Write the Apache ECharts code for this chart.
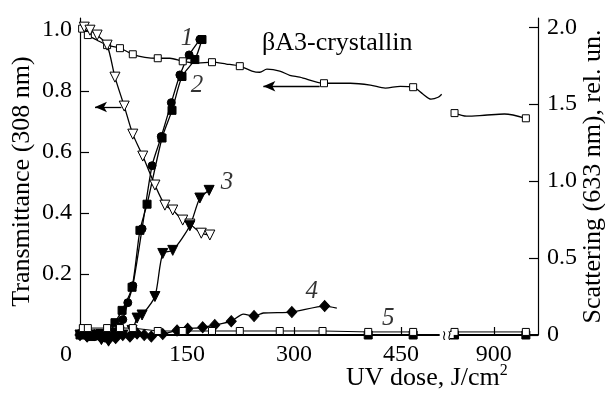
<!DOCTYPE html>
<html>
<head>
<meta charset="utf-8">
<script src="https://cdn.jsdelivr.net/npm/echarts@6/dist/echarts.min.js"></script>
<style>
  html, body { margin: 0; padding: 0; background: #fff; }
  #chart { width: 605px; height: 393px; }
</style>
</head>
<body>
<div id="chart"></div>
<script>
// ---- axes ----
const doseTicks = [0, 150, 300, 450, 900];
const transTicks = [0.2, 0.4, 0.6, 0.8, 1.0];
const scatTicks = [0, 0.5, 1.0, 1.5, 2.0];
const doseBreakStart = 510;
const doseBreakEnd = 838;

// ---- transmittance at 308 nm (left axis), open squares; null = axis break ----
const transSqDose  = [3, 11, 24, 38, 56, 74, 91, 109, 126, 144, 165, 185, 205, 224, 241, 252, 262, 280, 294, 308, 342, 379, 407, 428, 449, 467, 481, 492, 502, 507, 600, 845, 862, 887, 915, 945];
const transSqValue = [1.005, 0.984, 0.967, 0.951, 0.941, 0.921, 0.911, 0.908, 0.908, 0.898, 0.892, 0.895, 0.889, 0.882, 0.866, 0.862, 0.872, 0.866, 0.852, 0.846, 0.826, 0.826, 0.820, 0.810, 0.816, 0.813, 0.790, 0.774, 0.780, 0.790, null, 0.728, 0.718, 0.721, 0.725, 0.711];
const transSqMarked = [1, 1, 0, 1, 1, 1, 0, 1, 0, 1, 0, 1, 0, 1, 0, 0, 0, 0, 0, 0, 1, 0, 0, 0, 0, 1, 0, 0, 0, 0, 0, 1, 0, 0, 0, 1];

// ---- transmittance at 308 nm (left axis), open down-triangles ----
const transTriDose  = [6, 14, 24, 38, 49, 62, 74, 88, 105, 119, 130, 144, 154, 170, 182];
const transTriValue = [1.01, 1.0, 0.984, 0.951, 0.846, 0.751, 0.659, 0.587, 0.492, 0.426, 0.41, 0.377, 0.364, 0.334, 0.328];

// ---- scattering at 633 nm (right axis) ----
const scat1Dose  = [0, 7, 14, 21, 28, 35, 42, 50, 56, 60, 67, 74, 87, 101, 114, 128, 140, 153, 168];
const scat1Value = [0.01, 0.0, 0.01, -0.01, 0.0, -0.02, 0.0, 0.02, 0.05, 0.1, 0.21, 0.32, 0.69, 1.10, 1.29, 1.51, 1.69, 1.82, 1.92];

const scat2Dose  = [0, 7, 14, 21, 28, 35, 42, 49, 59, 73, 84, 94, 115, 129, 143, 161, 171];
const scat2Value = [0.0, 0.01, -0.01, 0.0, 0.01, 0.0, 0.02, 0.08, 0.16, 0.31, 0.68, 0.85, 1.28, 1.46, 1.68, 1.79, 1.92];

const scat3Dose  = [0, 10, 20, 30, 40, 50, 60, 73, 80, 87, 105, 116, 130, 154, 168, 181];
const scat3Value = [0.0, -0.01, 0.0, -0.03, -0.04, -0.02, 0.0, 0.03, 0.11, 0.13, 0.25, 0.53, 0.55, 0.71, 0.89, 0.94];

const scat4Dose   = [0, 10, 20, 30, 40, 50, 60, 70, 80, 90, 100, 116, 136, 151, 172, 189, 212, 229, 244, 257, 297, 343, 360];
const scat4Value  = [0.0, -0.01, 0.0, -0.02, -0.03, -0.02, 0.0, -0.01, 0.01, 0.0, -0.01, 0.006, 0.03, 0.04, 0.05, 0.065, 0.09, 0.136, 0.123, 0.143, 0.149, 0.188, 0.175];
const scat4Marked = [1, 1, 1, 1, 1, 1, 1, 1, 1, 1, 1, 1, 1, 1, 1, 1, 1, 0, 1, 0, 1, 1, 0];

const scat5Dose   = [0, 404, 467, 510, 600, 838, 845, 945, 962];
const scat5Value  = [0, 0, 0, 0, null, 0, 0, 0, 0];
const scat5Marked = [0, 1, 1, 0, 0, 0, 1, 1, 0];

const scatSqDose  = [4, 11, 38, 56, 74, 109, 144, 185, 224, 280, 340, 404, 467, 600, 845, 945];
const scatSqValue = [0.045, 0.045, 0.045, 0.045, 0.045, 0.026, 0.026, 0.026, 0.026, 0.026, 0.026, 0.02, 0.02, null, 0.02, 0.02];

// ---- curve numbers (right-axis coordinates) ----
const tagText  = ['1', '2', '3', '4', '5'];
const tagDose  = [150, 164, 206, 325, 432];
const tagValue = [1.93, 1.62, 0.99, 0.28, 0.11];

// ---- arrows pointing to the transmittance axis ----
const arrowRows = [
  { from: [58, 0.748], to: [21, 0.748] },
  { from: [336, 0.816], to: [257, 0.816] }
];

const FONT = 'Liberation Serif, Times New Roman, serif';
const INK = '#000';

function points(xs, ys, marked) {
  return xs.map((x, i) => {
    if (ys[i] === null) return { value: [x, '-'] };
    const item = { value: [x, ys[i]] };
    if (marked && !marked[i]) item.symbol = 'none';
    return item;
  });
}

function lineSeries(opts) {
  return Object.assign({
    type: 'line',
    smooth: 0.25,
    clip: false,
    connectNulls: false,
    lineStyle: { color: INK, width: 1.3 },
    itemStyle: { color: INK, borderColor: INK, borderWidth: 1 },
    symbolSize: 8,
    emphasis: { disabled: true },
    animation: false,
    z: 3
  }, opts);
}

const openStyle = { color: '#fff', borderColor: INK, borderWidth: 1 };

const chart = echarts.init(document.getElementById('chart'), null, { renderer: 'canvas' });

const option = {
  backgroundColor: '#fff',
  animation: false,
  textStyle: { fontFamily: FONT, color: INK },
  grid: { left: 80, right: 67, top: 18, bottom: 58, containLabel: false, outerBoundsMode: 'none' },
  title: [
    {
      text: 'βA3-crystallin', left: 262, top: 30, padding: 0,
      textStyle: { fontFamily: FONT, fontSize: 26, fontWeight: 'normal', color: INK }
    },
    {
      text: '{a|UV dose, J/cm}{s|2}', left: 346, top: 363, padding: 0,
      textStyle: {
        fontFamily: FONT, fontWeight: 'normal', color: INK,
        rich: {
          a: { fontFamily: FONT, fontWeight: 'normal', fontSize: 26, color: INK, verticalAlign: 'bottom' },
          s: { fontFamily: FONT, fontWeight: 'normal', fontSize: 16, color: INK, verticalAlign: 'top', padding: [0, 0, 12, 0] }
        }
      }
    }
  ],
  xAxis: {
    type: 'value',
    min: 0,
    max: 962,
    breaks: [{ start: doseBreakStart, end: doseBreakEnd, gap: 8 }],
    breakArea: { show: false },
    axisLine: { show: true, onZero: false, lineStyle: { color: INK, width: 1.5 } },
    axisTick: { show: true, inside: true, length: 8, customValues: doseTicks, lineStyle: { color: INK, width: 1.2 } },
    axisLabel: {
      customValues: doseTicks,
      margin: 8,
      color: INK,
      fontFamily: FONT,
      fontSize: 24,
      formatter: v => v === 0 ? '{z|0}' : String(v),
      rich: { z: { fontFamily: FONT, fontSize: 24, color: INK, padding: [0, 28, 0, 0] } }
    },
    splitLine: { show: false }
  },
  yAxis: [
    {
      type: 'value',
      min: 0,
      max: 1.04,
      position: 'left',
      name: 'Transmittance (308 nm)',
      nameLocation: 'middle',
      nameRotate: 90,
      nameGap: 45,
      nameMoveOverlap: false,
      nameTextStyle: { fontFamily: FONT, fontSize: 26, color: INK, padding: [0, 10, 0, 0] },
      axisLine: { show: true, lineStyle: { color: INK, width: 1.2 } },
      axisTick: { show: true, inside: true, length: 9, customValues: transTicks, lineStyle: { color: INK, width: 1.2 } },
      axisLabel: {
        customValues: transTicks, margin: 8, color: INK, fontFamily: FONT, fontSize: 24,
        formatter: v => v.toFixed(1)
      },
      splitLine: { show: false }
    },
    {
      type: 'value',
      min: 0,
      max: 2.06,
      position: 'right',
      name: 'Scattering (633 nm), rel. un.',
      nameLocation: 'middle',
      nameRotate: 90,
      nameGap: 42,
      nameMoveOverlap: false,
      nameTextStyle: { fontFamily: FONT, fontSize: 26, color: INK },
      axisLine: { show: true, lineStyle: { color: INK, width: 1.2 } },
      axisTick: { show: true, inside: true, length: 9, customValues: scatTicks, lineStyle: { color: INK, width: 1.2 } },
      axisLabel: {
        customValues: scatTicks, margin: 9, color: INK, fontFamily: FONT, fontSize: 24,
        formatter: v => v === 0 ? '0' : v.toFixed(1)
      },
      splitLine: { show: false }
    }
  ],
  series: [
    lineSeries({
      name: 'trans-squares', yAxisIndex: 0,
      data: points(transSqDose, transSqValue, transSqMarked),
      symbol: 'rect', symbolSize: 7, itemStyle: openStyle, smooth: 0.3,
      markLine: {
        silent: true, animation: false,
        symbol: ['none', 'arrow'], symbolSize: [8, 12],
        label: { show: false },
        lineStyle: { color: INK, width: 1.3, type: 'solid' },
        data: arrowRows.map(a => [{ coord: a.from }, { coord: a.to }])
      }
    }),
    lineSeries({
      name: 'trans-triangles', yAxisIndex: 0,
      data: points(transTriDose, transTriValue),
      symbol: 'triangle', symbolRotate: 180, symbolSize: 10, itemStyle: openStyle
    }),
    lineSeries({
      name: 'scat-1', yAxisIndex: 1,
      data: points(scat1Dose, scat1Value),
      symbol: 'circle', symbolSize: 8
    }),
    lineSeries({
      name: 'scat-2', yAxisIndex: 1,
      data: points(scat2Dose, scat2Value),
      symbol: 'rect', symbolSize: 8
    }),
    lineSeries({
      name: 'scat-3', yAxisIndex: 1,
      data: points(scat3Dose, scat3Value),
      symbol: 'triangle', symbolRotate: 180, symbolSize: 10
    }),
    lineSeries({
      name: 'scat-4', yAxisIndex: 1,
      data: points(scat4Dose, scat4Value, scat4Marked),
      symbol: 'diamond', symbolSize: [10, 11]
    }),
    lineSeries({
      name: 'scat-5', yAxisIndex: 1,
      data: points(scat5Dose, scat5Value, scat5Marked),
      symbol: 'rect', symbolSize: 8, smooth: false,
      lineStyle: { color: INK, width: 2 }
    }),
    lineSeries({
      name: 'scat-squares', yAxisIndex: 1,
      data: points(scatSqDose, scatSqValue),
      symbol: 'rect', symbolSize: 7, itemStyle: openStyle, smooth: false,
      lineStyle: { color: INK, width: 1 }, z: 4
    }),
    {
      type: 'scatter', name: 'tags', yAxisIndex: 1,
      symbolSize: 0, silent: true, animation: false, clip: false,
      data: tagDose.map((x, i) => ({ value: [x, tagValue[i]], name: tagText[i] })),
      label: {
        show: true, position: 'inside', formatter: p => p.name,
        fontFamily: FONT, fontStyle: 'italic', fontSize: 25, color: INK
      },
      z: 5
    }
  ]
};

chart.setOption(option);

// axis-break squiggle on the dose axis
const bx = chart.convertToPixel({ xAxisIndex: 0, yAxisIndex: 0 }, [doseBreakStart, 0]);
const ex = chart.convertToPixel({ xAxisIndex: 0, yAxisIndex: 0 }, [doseBreakEnd, 0]);
const midX = (bx[0] + ex[0]) / 2;
chart.setOption({
  graphic: [
    { type: 'rect', shape: { x: midX - 7, y: bx[1] - 3, width: 14, height: 6 }, style: { fill: '#fff' }, z: 10 },
    {
      type: 'text', x: midX, y: bx[1] + 1, z: 11,
      style: { text: '≀≀', fontFamily: 'DejaVu Sans', fontSize: 14, fill: INK, align: 'center', verticalAlign: 'middle' }
    }
  ]
});
</script>
</body>
</html>
